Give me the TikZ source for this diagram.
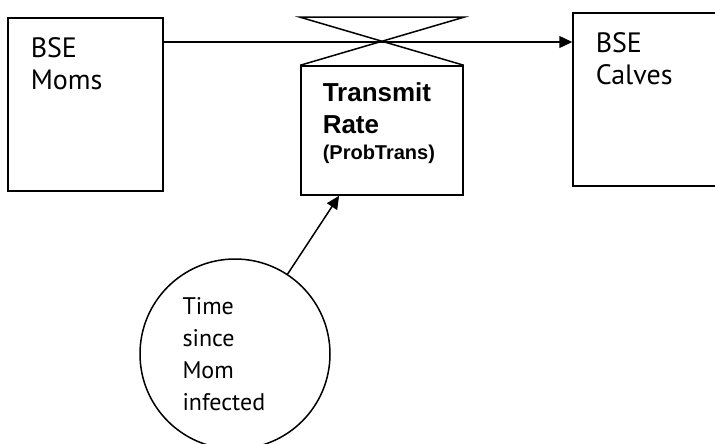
\documentclass[tikz,border=0pt]{standalone}
\usepackage{fontspec}
\setmainfont{PT Sans}
\newfontfamily\ratefont{Liberation Sans}
\usetikzlibrary{arrows.meta,positioning}

\begin{document}
\begin{tikzpicture}[x=1pt,y=-1pt,line width=1.5pt,stock/.style={draw=black,rectangle,inner sep=0pt,minimum width=155pt,minimum height=173pt},stock-label/.style={anchor=north west,align=left,inner sep=0pt,font=\fontsize{28}{32}\selectfont},flow/.style={-{Triangle[length=13pt,width=12pt]}},aux/.style={draw=black,circle,inner sep=0pt,minimum size=190pt,text width=105pt,align=left,font=\fontsize{24}{32}\selectfont}]
\clip (0,0) rectangle (715,444);
\node[stock] (stock-moms) at (85.5,104.5) {};
\node[stock-label] (label-moms) at (30,37) {BSE\\Moms};
\node[stock,minimum width=160pt] (stock-calves) at (653,99.5) {};
\node[stock-label] (label-calves) at (595,32) {BSE\\Calves};
\coordinate (flow-level) at (0,42);
\draw[flow] (stock-moms.east |- flow-level) -- (stock-calves.west |- flow-level);
\node[draw=black,rectangle,inner sep=0pt,minimum width=162pt,minimum height=129pt] (valve-rate) at (382,130.5) {};
\draw (valve-rate.north west) -- ([yshift=48pt]valve-rate.north east) -- ([yshift=48pt]valve-rate.north west) -- (valve-rate.north east);
\node[anchor=north west,align=left,inner sep=0pt,font=\ratefont\bfseries\fontsize{26}{32}\selectfont] (label-rate) at (322,82) {Transmit\\Rate\\[-6pt]{\fontsize{20}{26}\selectfont(ProbTrans)}};
\node[aux] (aux-time) at (235,354) {Time\\since\\Mom\\infected};
\draw[flow] (aux-time) -- (valve-rate);
\end{tikzpicture}
\end{document}
